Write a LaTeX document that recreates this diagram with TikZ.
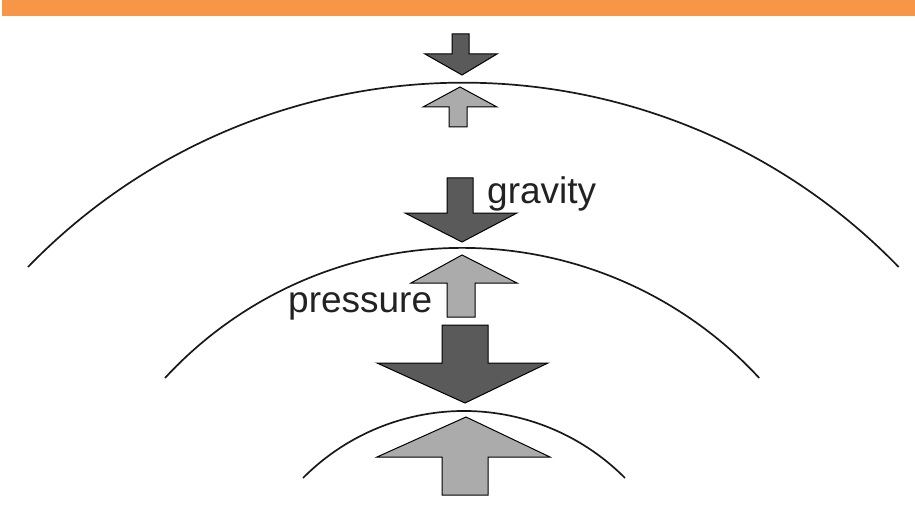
\documentclass[tikz,border=0pt]{standalone}
\usepackage{fontspec}
\setmainfont{Liberation Sans}
\definecolor{barorange}{HTML}{F79646}
\definecolor{darkfill}{HTML}{5A5A5A}
\definecolor{lightfill}{HTML}{ABABAB}
\definecolor{txt}{HTML}{222222}
\begin{document}
\begin{tikzpicture}[x=1pt,y=-1pt,
  layer/.style={line width=1.7pt, draw=black!90},
  downarrow/.style={fill=darkfill, draw=black, line width=1pt, line join=miter},
  uparrow/.style={fill=lightfill, draw=black, line width=1pt, line join=miter},
  lbl/.style={text=txt, font=\fontsize{37}{40}\selectfont, inner sep=0pt, anchor=base west}]
\useasboundingbox (0,0) rectangle (915,505);
\fill[white] (0,0) rectangle (915,505);
% top bar
\fill[barorange] (2,0) rectangle (915,16);
% layers
\draw[layer] (28,267) arc[start angle=224.1, end angle=315.9, radius=606.2];
\draw[layer] (165,378) arc[start angle=222.7, end angle=317.3, radius=404.3];
\draw[layer] (303,478) arc[start angle=224.8, end angle=315.2, radius=226.9];
% top pair
\draw[downarrow] (452,34) -- (469,34) -- (469,54) -- (497,54) -- (462,75) -- (425,54) -- (452,54) -- cycle;
\draw[uparrow] (449,127) -- (467,127) -- (467,107) -- (497,107) -- (460,87) -- (423,107) -- (449,107) -- cycle;
% middle pair
\draw[downarrow] (447,178) -- (473,178) -- (473,213) -- (517,213) -- (462,242) -- (405,213) -- (447,213) -- cycle;
\draw[uparrow] (447,317) -- (475,317) -- (475,283) -- (517,283) -- (462,255) -- (411,283) -- (447,283) -- cycle;
% bottom pair
\draw[downarrow] (442,325) -- (488,325) -- (488,363) -- (548,363) -- (465,403) -- (377,363) -- (442,363) -- cycle;
\draw[uparrow] (442,495) -- (488,495) -- (488,457) -- (550,457) -- (466,417) -- (377,457) -- (442,457) -- cycle;
% labels
\node[lbl] (gravity) at (487,204) {gravity};
\node[lbl] (pressure) at (288,312) {pressure};
\end{tikzpicture}
\end{document}
